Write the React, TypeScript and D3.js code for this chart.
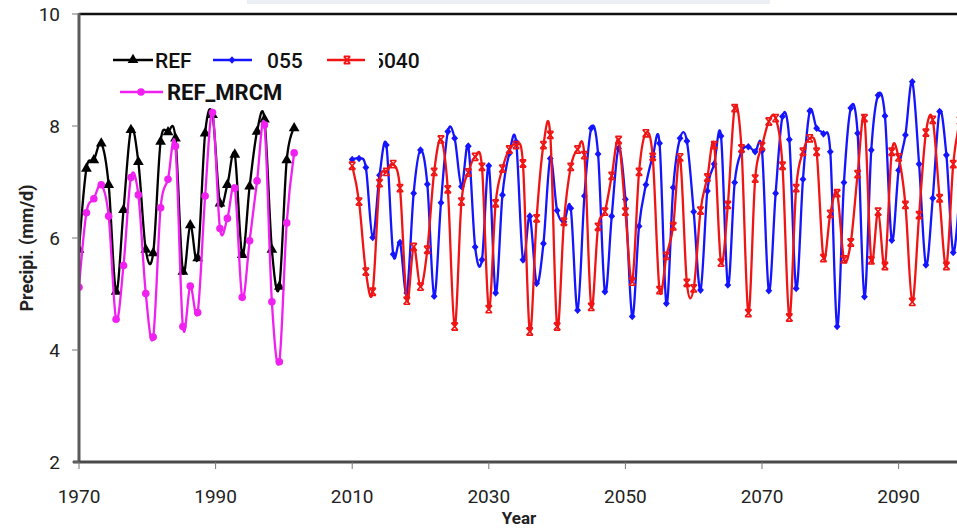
import * as d3 from "d3";

// ---- data ----
const REF_COUNT = 30;
const REF = [5.79, 7.24, 7.39, 7.69, 6.95, 5.04, 6.5, 7.93, 7.36, 5.79, 5.73, 7.72, 7.89, 7.78, 5.4,
  6.23, 5.64, 7.87, 8.2, 6.62, 6.95, 7.49, 5.7, 6.92, 7.9, 8.12, 5.79, 5.13, 7.39, 7.96];
const REF_MRCM = [5.12, 6.45, 6.7, 6.95, 6.39, 4.55, 5.51, 7.08, 6.77, 5.01, 4.23, 6.54, 7.05, 7.64, 4.42,
  5.14, 4.67, 6.75, 8.24, 6.17, 6.35, 6.89, 4.94, 5.95, 7.02, 8.02, 4.86, 3.79, 6.27, 7.52];
// the REF points run from 1970 to about 2001.5 in the picture
const REF_FIRST = 1970;
const REF_LAST = 2001.5;

const FUT_START = 2010;
const S055 = [7.4, 7.42, 7.26, 6.01, 7.12, 7.66, 5.71, 5.92, 5.02, 6.8,
  7.57, 6.96, 4.96, 6.63, 7.9, 7.78, 6.92, 7.64, 5.84, 5.61,
  7.29, 5.02, 6.77, 7.51, 7.72, 5.61, 6.39, 5.19, 5.9, 7.42,
  6.49, 6.29, 6.53, 4.71, 6.75, 7.96, 7.5, 5.04, 6.39, 7.6,
  6.69, 4.6, 6.21, 6.95, 7.45, 7.69, 4.83, 6.9, 7.78, 7.73,
  6.47, 5.07, 6.84, 7.32, 7.82, 5.16, 6.99, 7.54, 7.63, 7.54,
  7.56, 5.06, 6.8, 8.17, 7.76, 5.1, 7.05, 8.27, 7.96, 7.86,
  7.54, 4.42, 6.99, 8.32, 7.87, 4.95, 7.57, 8.55, 8.18, 5.96,
  7.21, 7.84, 8.79, 7.32, 5.52, 6.71, 8.26, 7.48, 5.74, 6.95];
const S040 = [7.29, 6.65, 5.4, 5.04, 6.98, 7.18, 7.32, 6.89, 4.88, 5.84,
  5.13, 5.79, 7.18, 7.76, 6.87, 4.42, 6.65, 7.17, 7.45, 7.27,
  4.73, 6.62, 7.24, 7.58, 7.66, 7.33, 4.33, 6.35, 7.66, 7.84,
  4.42, 6.29, 7.27, 7.58, 7.48, 4.77, 6.2, 6.47, 7.11, 7.75,
  6.47, 5.22, 7.18, 7.87, 7.45, 5.07, 5.68, 6.21, 7.44, 5.2,
  5.1, 6.49, 7.08, 7.66, 5.56, 6.59, 8.32, 7.6, 4.66, 7.06,
  7.64, 8.08, 8.14, 7.29, 4.58, 6.89, 7.54, 7.78, 7.54, 5.64,
  6.43, 6.8, 5.62, 5.92, 7.14, 8.14, 5.6, 6.47, 5.5, 7.54,
  7.44, 6.59, 4.86, 6.41, 7.88, 8.11, 6.71, 5.5, 7.32, 8.1];

const X_TICKS = [1970, 1990, 2010, 2030, 2050, 2070, 2090];
const Y_TICKS = [2, 4, 6, 8, 10];

const FONT = "Roboto, 'Open Sans', sans-serif";

type Pt = { x: number; y: number };

export default function App() {
  const W = 957, H = 530;
  const left = 79, top = 14, bottom = 462;
  const x = d3.scaleLinear().domain([1970, 2100]).range([left, left + 130 * 6.83]);
  const y = d3.scaleLinear().domain([2, 10]).range([bottom, top]);

  const refYears = d3.range(REF_COUNT).map(i => REF_FIRST + (i * (REF_LAST - REF_FIRST)) / (REF_COUNT - 1));
  const ref: Pt[] = REF.map((v, i) => ({ x: refYears[i], y: v }));
  const mrcm: Pt[] = REF_MRCM.map((v, i) => ({ x: refYears[i], y: v }));
  const s055: Pt[] = S055.map((v, i) => ({ x: FUT_START + i, y: v }));
  const s040: Pt[] = S040.map((v, i) => ({ x: FUT_START + i, y: v }));

  // excel-style smoothing
  const line = d3.line<Pt>()
    .x(d => x(d.x))
    .y(d => y(d.y))
    .curve(d3.curveCardinal.tension(0));

  const tri = d3.symbol(d3.symbolTriangle, 50)()!;
  const diamond = "M0,-3.8L3.4,0L0,3.8L-3.4,0Z";
  const star = "M-3.2,-3.6L3.2,3.6M3.2,-3.6L-3.2,3.6M-3.2,-3.6H3.2M-3.2,3.6H3.2";

  const marker = (kind: string, color: string, cx: number, cy: number, key: any) => {
    if (kind === "tri") return <path key={key} d={tri} transform={`translate(${cx},${cy})`} fill={color} />;
    if (kind === "dia") return <path key={key} d={diamond} transform={`translate(${cx},${cy})`} fill={color} />;
    if (kind === "star") return <path key={key} d={star} transform={`translate(${cx},${cy})`} stroke={color} strokeWidth={1.6} fill="none" />;
    return <circle key={key} cx={cx} cy={cy} r={3.8} fill={color} />;
  };

  const series = [
    { name: "REF", data: ref, color: "#000000", kind: "tri" },
    { name: "055", data: s055, color: "#1414ff", kind: "dia" },
    { name: "040", data: s040, color: "#f01414", kind: "star" },
    { name: "REF_MRCM", data: mrcm, color: "#f020f0", kind: "circ" },
  ];

  return (
    <>
      <style>{`body{margin:0}`}</style>
      <svg width={W} height={H} style={{ display: "block", background: "#fff" }} fontFamily={FONT}>
        <defs>
          <clipPath id="plot">
            <rect x={left} y={0} width={W - left} height={bottom} />
          </clipPath>
        </defs>

        {/* faint box at the very top */}
        <rect x={247} y={0} width={523} height={4} fill="#eceef6" />

        {/* series */}
        <g clipPath="url(#plot)">
          {series.map(s => (
            <g key={s.name}>
              <path d={line(s.data)!} fill="none" stroke={s.color} strokeWidth={2.3} />
              {s.data.map((d, i) => marker(s.kind, s.color, x(d.x), y(d.y), i))}
            </g>
          ))}
        </g>

        {/* frame */}
        <line x1={left} x2={W} y1={top} y2={top} stroke="#111" strokeWidth={2.5} />
        <line x1={left} x2={left} y1={top - 1} y2={bottom} stroke="#5a5a5a" strokeWidth={3} />
        <line x1={left - 6} x2={W} y1={bottom} y2={bottom} stroke="#4a4a4a" strokeWidth={3} />

        {/* y axis */}
        {Y_TICKS.map(t => (
          <g key={t}>
            <line x1={left - 7} x2={left} y1={y(t)} y2={y(t)} stroke="#777" strokeWidth={1} />
            <text x={left - 19} y={y(t)} dy="0.36em" textAnchor="end" fontSize={19} fill="#222">{t}</text>
          </g>
        ))}

        {/* x axis */}
        {X_TICKS.map(t => (
          <g key={t}>
            <line x1={x(t)} x2={x(t)} y1={bottom} y2={bottom + 7} stroke="#777" strokeWidth={1} />
            <text x={x(t)} y={bottom + 41} textAnchor="middle" fontSize={19} fill="#222">{t}</text>
          </g>
        ))}

        <text x={519} y={524} textAnchor="middle" fontSize={17} fontWeight="bold" fill="#222">Year</text>
        <text transform={`translate(33,${(top + bottom) / 2 + 10}) rotate(-90)`} textAnchor="middle"
          fontSize={18} fontWeight="bold" fill="#222">Precipi. (mm/d)</text>

        {/* legend */}
        <g>
          <line x1={113} x2={153} y1={60} y2={60} stroke="#000" strokeWidth={2.5} />
          {marker("tri", "#000", 133, 60, "l1")}
          <text x={155} y={68} fontSize={21} fontWeight={500} fill="#111">REF</text>

          <line x1={213} x2={252} y1={60} y2={60} stroke="#1414ff" strokeWidth={2.5} />
          {marker("dia", "#1414ff", 232, 60, "l2")}
          <text x={267} y={68} fontSize={21} fontWeight={500} fill="#111">055</text>

          <line x1={327} x2={365} y1={60} y2={60} stroke="#f01414" strokeWidth={2.5} />
          {marker("star", "#f01414", 347, 60, "l3")}
          <text x={372} y={68} fontSize={21} fontWeight={500} fill="#111">5040</text>
          <rect x={368} y={44} width={11} height={30} fill="#fff" />

          <line x1={120} x2={163} y1={92} y2={92} stroke="#f020f0" strokeWidth={2.5} />
          {marker("circ", "#f020f0", 141, 92, "l4")}
          <text x={167} y={100} fontSize={22} fontWeight="bold" fill="#111">REF_MRCM</text>
        </g>
      </svg>
    </>
  );
}
